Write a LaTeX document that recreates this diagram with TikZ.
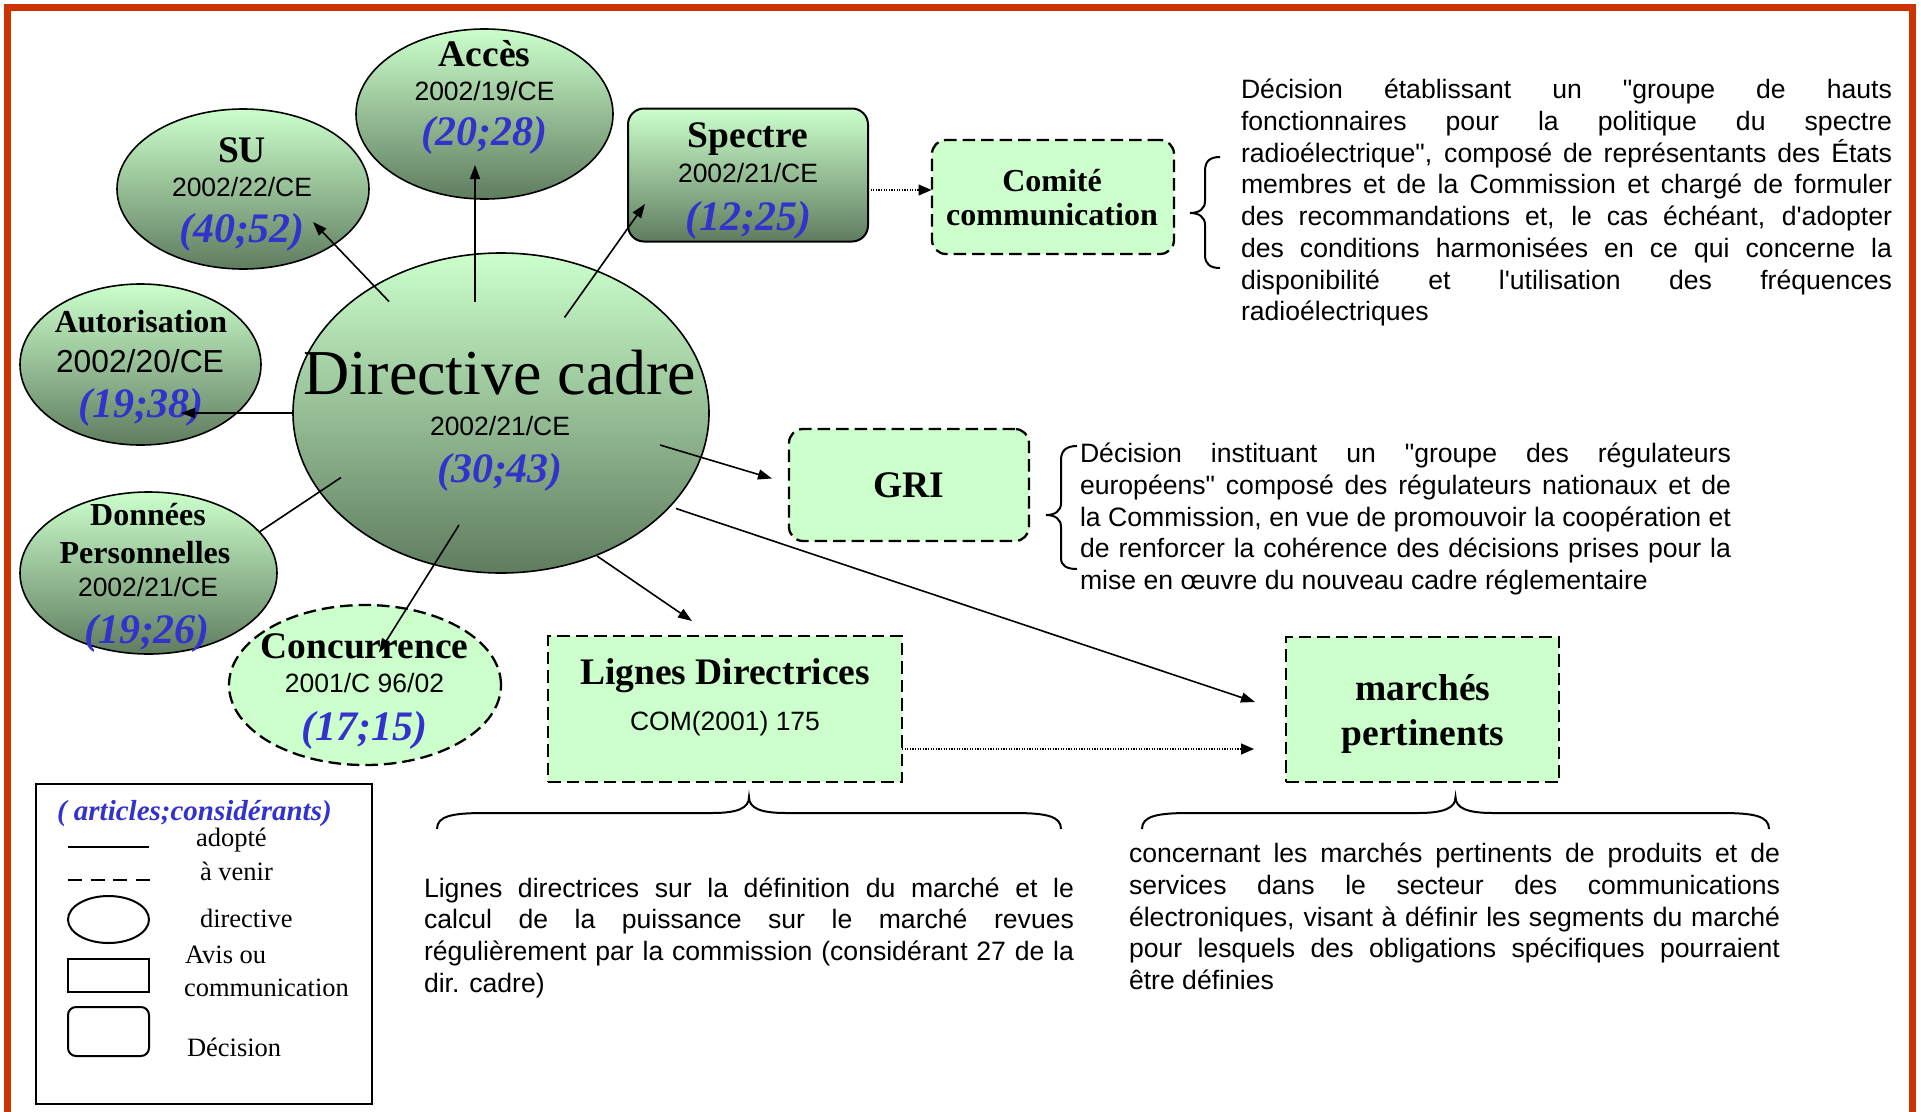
\documentclass[tikz,border=0pt]{standalone}
\usepackage{fontspec}
\usetikzlibrary{shapes.geometric,arrows.meta}
\newfontfamily\tnr{Liberation Serif}
\newfontfamily\ari{Liberation Sans}
\definecolor{lgreen}{RGB}{204,255,204}
\definecolor{dgreen}{RGB}{95,124,95}
\definecolor{numblue}{RGB}{51,51,204}
\definecolor{framecol}{RGB}{204,51,0}
\newcommand\jline[1]{\makebox[\linewidth][s]{#1}\\}
\begin{document}
\begin{tikzpicture}[x=1pt,y=-1pt,
  every node/.style={inner sep=0pt,outer sep=0pt},
  adopted/.style={draw=black,line width=1.6pt,top color=lgreen,bottom color=dgreen},
  future/.style={draw=black,line width=2.3pt,dash pattern=on 12.5pt off 6pt,fill=lgreen},
  ttl/.style={anchor=base,font=\tnr\bfseries\fontsize{37.5}{40}\selectfont},
  sttl/.style={anchor=base,font=\tnr\bfseries\fontsize{32}{34}\selectfont},
  code/.style={anchor=base,font=\ari\fontsize{26.5}{30}\selectfont},
  nums/.style={anchor=base,text=numblue,font=\tnr\bfseries\itshape\fontsize{42}{44}\selectfont},
  leg/.style={anchor=base west,font=\tnr\fontsize{26.5}{30}\selectfont},
  desc/.style={anchor=base west},
  conn/.style={line width=1.6pt,-{Triangle[length=14pt,width=10pt]}},
  link/.style={line width=1.6pt},
  dotconn/.style={line width=1.2pt,dash pattern=on 1.2pt off 1.4pt,-{Triangle[length=13pt,width=11pt]}},
  brc/.style={line width=2pt},
]
\useasboundingbox (0,0) rectangle (1921,1111);
\fill[white] (0,0) rectangle (1921,1111);
\draw[framecol,line width=6.7pt] (7.5,1116) -- (7.5,7.3) -- (1912.4,7.3) -- (1912.4,1116);

% ---- shapes
\node[future,ellipse,minimum width=272pt,minimum height=160pt] (conc) at (365,685) {};
\node[adopted,ellipse,minimum width=257pt,minimum height=162pt] (don) at (148.5,573) {};
\node[adopted,ellipse,minimum width=241pt,minimum height=161pt] (aut) at (140.5,364.5) {};
\node[adopted,ellipse,minimum width=252pt,minimum height=160pt] (su) at (243,189) {};
\node[adopted,ellipse,minimum width=257pt,minimum height=170pt] (acc) at (484.5,114) {};
\node[adopted,ellipse,minimum width=416pt,minimum height=320pt] (dir) at (501,413) {};
\node[adopted,rectangle,rounded corners=16pt,line width=2pt,minimum width=240pt,minimum height=133pt] (spec) at (748,175) {};
\node[future,rectangle,rounded corners=14pt,minimum width=242pt,minimum height=114pt] (com) at (1053,197) {};
\node[future,rectangle,rounded corners=14pt,minimum width=240pt,minimum height=112pt] (gri) at (909,485) {};
\node[future,rectangle,minimum width=354pt,minimum height=146pt] (lig) at (725,709) {};
\node[future,rectangle,minimum width=273pt,minimum height=145pt] (mar) at (1422.5,709.5) {};

% ---- texts in shapes
\node[ttl] (accT) at (484.5,66) {Accès};
\node[code] (accC) at (484.5,100) {2002/19/CE};
\node[nums] (accN) at (484.5,145) {(20;28)};

\node[ttl] (suT) at (242,162.5) {SU};
\node[code] (suC) at (242,196) {2002/22/CE};
\node[nums] (suN) at (242,242) {(40;52)};

\node[ttl] (specT) at (748,147) {Spectre};
\node[code] (specC) at (748,182) {2002/21/CE};
\node[nums] (specN) at (748,230) {(12;25)};

\node[anchor=base,font=\tnr\fontsize{64}{66}\selectfont] (dirT) at (500,394) {Directive cadre};
\node[code] (dirC) at (500,435) {2002/21/CE};
\node[nums] (dirN) at (500,482) {(30;43)};

\node[sttl] (autT) at (141,332) {Autorisation};
\node[anchor=base,font=\ari\fontsize{31.8}{34}\selectfont] (autC) at (140,372) {2002/20/CE};
\node[nums] (autN) at (141,417) {(19;38)};

\node[sttl] (donT) at (148,525) {Données};
\node[sttl] (donT2) at (145,563) {Personnelles};
\node[code] (donC) at (148,596) {2002/21/CE};
\node[nums] (donN) at (147,643) {(19;26)};

\node[ttl] (concT) at (364.5,658) {Concurrence};
\node[code] (concC) at (364.5,692.5) {2001/C 96/02};
\node[nums] (concN) at (364.5,740) {(17;15)};

\node[ttl] (ligT) at (725,684) {Lignes Directrices};
\node[code] (ligC) at (725,730) {COM(2001) 175};

\node[sttl] (comT) at (1052,191.5) {Comité};
\node[sttl] (comT2) at (1052,225) {communication};

\node[ttl] (griT) at (909,497.5) {GRI};

\node[ttl] (marT) at (1423,700) {marchés};
\node[ttl] (marT2) at (1423,745) {pertinents};

% ---- descriptions
\node[desc] (descCom) at (1241,98.5) {\parbox[t]{651pt}{\ari\fontsize{26.6}{31.75}\selectfont
\jline{Décision établissant un "groupe de hauts}
\jline{fonctionnaires pour la politique du spectre}
\jline{radioélectrique", composé de représentants des États}
\jline{membres et de la Commission et chargé de formuler}
\jline{des recommandations et, le cas échéant, d'adopter}
\jline{des conditions harmonisées en ce qui concerne la}
\jline{disponibilité et l'utilisation des fréquences}
radioélectriques}};

\node[desc] (descGri) at (1080,462.5) {\parbox[t]{651pt}{\ari\fontsize{26.6}{31.75}\selectfont
\jline{Décision instituant un "groupe des régulateurs}
\jline{européens" composé des régulateurs nationaux et de}
\jline{la Commission, en vue de promouvoir la coopération et}
\jline{de renforcer la cohérence des décisions prises pour la}
mise en œuvre du nouveau cadre réglementaire}};

\node[desc] (descLig) at (424,897) {\parbox[t]{650pt}{\ari\fontsize{26.6}{31.75}\selectfont
\jline{Lignes directrices sur la définition du marché et le}
\jline{calcul de la puissance sur le marché revues}
\jline{régulièrement par la commission (considérant 27 de la}
dir. cadre)}};

\node[desc] (descMar) at (1129,862.5) {\parbox[t]{651pt}{\ari\fontsize{26.6}{31.75}\selectfont
\jline{concernant les marchés pertinents de produits et de}
\jline{services dans le secteur des communications}
\jline{électroniques, visant à définir les segments du marché}
\jline{pour lesquels des obligations spécifiques pourraient}
être définies}};

% ---- braces
\draw[brc] (1220,157) .. controls (1210,157) and (1205,161) .. (1205,171) -- (1205,201)
  .. controls (1205,209) and (1199,213) .. (1190,213)
  .. controls (1199,213) and (1205,217) .. (1205,225) -- (1205,255)
  .. controls (1205,264) and (1210,268) .. (1220,268);
\draw[brc] (1077,446) .. controls (1067,446) and (1061,450) .. (1061,460) -- (1061,503)
  .. controls (1061,511) and (1055,515) .. (1046,515)
  .. controls (1055,515) and (1061,519) .. (1061,527) -- (1061,558)
  .. controls (1061,566) and (1067,569) .. (1077,569);
\draw[brc] (437,829) .. controls (437,816) and (452,813) .. (485,813) -- (712,813)
  .. controls (738,813) and (749,808) .. (749,797)
  .. controls (749,808) and (760,813) .. (786,813) -- (1013,813)
  .. controls (1046,813) and (1061,816) .. (1061,829);
\draw[brc] (1142,829) .. controls (1142,816) and (1157,813) .. (1190,813) -- (1418,813)
  .. controls (1444,813) and (1455.5,808) .. (1455.5,797)
  .. controls (1455.5,808) and (1467,813) .. (1493,813) -- (1721,813)
  .. controls (1754,813) and (1769,816) .. (1769,829);

% ---- connectors
\coordinate (sSU) at (389,301.5);   \coordinate (eSU) at (313,222);
\coordinate (sAcc) at (475,301.5);  \coordinate (eAcc) at (475,165);
\coordinate (sSpe) at (564.5,317.5);\coordinate (eSpe) at (645,204);
\coordinate (eAut) at (181,413);
\coordinate (sDon) at (341,477.5);  \coordinate (eDon) at (260,531.5);
\coordinate (sCon) at (459,525);    \coordinate (eCon) at (379,652.5);
\coordinate (sLig) at (597,556);    \coordinate (eLig) at (692,621);
\coordinate (sGri) at (660,445);    \coordinate (eGri) at (772,478.5);
\coordinate (sMar) at (676,508.5);  \coordinate (eMar) at (1255,702);
\coordinate (eCom) at (931.5,190);
\coordinate (eMar2) at (1254,749);
\draw[conn] (sSU) -- (eSU);
\draw[conn] (sAcc) -- (eAcc);
\draw[conn] (sSpe) -- (eSpe);
\draw[conn] (dir.west) -- (eAut);
\draw[link] (sDon) -- (eDon);
\draw[conn] (sCon) -- (eCon);
\draw[conn] (sLig) -- (eLig);
\draw[conn] (sGri) -- (eGri);
\draw[conn] (sMar) -- (eMar);
\draw[dotconn] (spec.east |- eCom) -- (eCom);
\draw[dotconn] (lig.east |- eMar2) -- (eMar2);

% ---- legend
\node[draw,line width=2pt,minimum width=336pt,minimum height=320pt,anchor=north west] (legend) at (36,784) {};
\node[anchor=base west,text=numblue,font=\tnr\bfseries\itshape\fontsize{29}{31}\selectfont] (legH) at (57,820) {( articles;considérants)};
\draw[line width=1.8pt] (68,847) -- (149,847);
\draw[line width=1.8pt,dash pattern=on 14pt off 8.5pt] (68,880) -- (149.5,880);
\node[draw,ellipse,line width=2pt,minimum width=81pt,minimum height=47pt] (legEll) at (108.5,919.5) {};
\node[draw,rectangle,line width=2pt,minimum width=81pt,minimum height=33pt] (legRect) at (108.5,975.5) {};
\node[draw,rectangle,rounded corners=8pt,line width=2pt,minimum width=81pt,minimum height=49pt] (legRound) at (108.5,1031.5) {};
\node[leg] (legA) at (196,846) {adopté};
\node[leg] (legB) at (200,880) {à venir};
\node[leg] (legC) at (200,927) {directive};
\node[leg] (legD) at (185,963.5) {Avis ou};
\node[leg] (legE) at (184,996) {communication};
\node[leg] (legF) at (187,1056) {Décision};
\end{tikzpicture}
\end{document}
